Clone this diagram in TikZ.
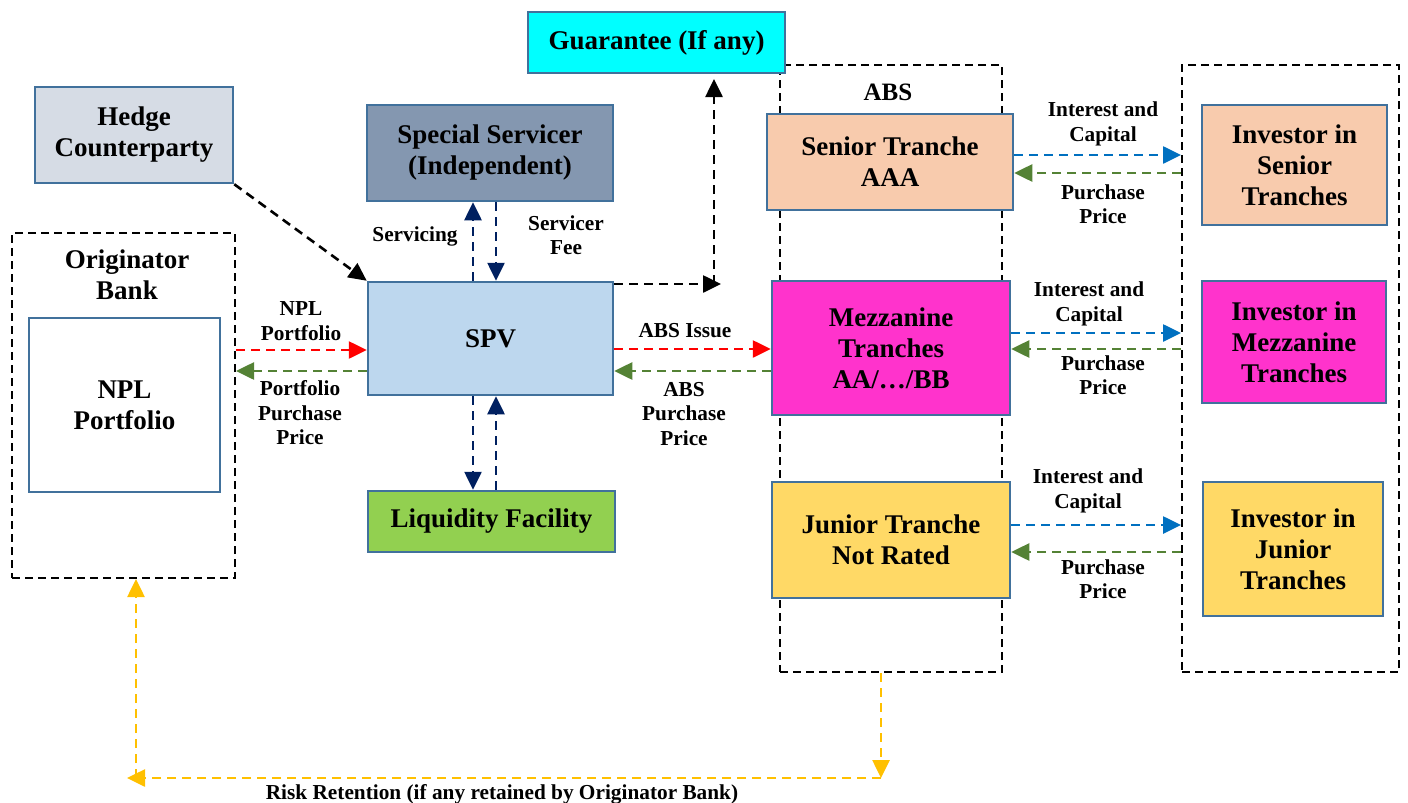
\documentclass[tikz,border=0pt]{standalone}
\usepackage{fontspec}
\setmainfont{Liberation Serif}
\usetikzlibrary{arrows.meta}
\definecolor{bord}{HTML}{41719C}
\definecolor{cyanf}{HTML}{00FFFF}
\definecolor{hedgef}{HTML}{D6DCE5}
\definecolor{ssf}{HTML}{8497B0}
\definecolor{spvf}{HTML}{BDD7EE}
\definecolor{liqf}{HTML}{92D050}
\definecolor{senf}{HTML}{F8CBAD}
\definecolor{mezf}{HTML}{FF33CC}
\definecolor{junf}{HTML}{FFD966}
\definecolor{redc}{HTML}{FF0000}
\definecolor{greenc}{HTML}{548235}
\definecolor{bluec}{HTML}{0070C0}
\definecolor{navyc}{HTML}{002060}
\definecolor{yellc}{HTML}{FFC000}
\begin{document}
\begin{tikzpicture}[x=1pt,y=-1pt,
  box/.style={draw=bord,line width=2.5pt,inner sep=0pt,align=center,
    font=\fontsize{27}{31}\selectfont\bfseries},
  dbox/.style={draw=black,line width=2pt,dash pattern=on 8pt off 5pt,inner sep=0pt},
  lab/.style={align=center,font=\fontsize{21.3}{24.5}\selectfont\bfseries,inner sep=0pt},
  arr/.style={line width=2.6pt,dash pattern=on 9pt off 6pt,-{Triangle[length=18pt,width=17pt]}},
  blackarr/.style={arr,black},
  navyarr/.style={arr,navyc},
  redarr/.style={arr,redc},
  greenarr/.style={arr,greenc},
  bluearr/.style={arr,bluec},
  yarr/.style={arr,yellc}]
\useasboundingbox (0,0) rectangle (1408,803);
% dashed group boxes
\node[dbox,minimum width=223pt,minimum height=345pt] (orig) at (123.5,405.5) {};
\node[dbox,minimum width=222pt,minimum height=607pt] (absbox) at (891,368.5) {};
\node[dbox,minimum width=217pt,minimum height=607pt] (invbox) at (1290.5,368.5) {};
% boxes
\node[box,fill=cyanf,minimum width=257pt,minimum height=61pt] (guar) at (656.5,42.5) {Guarantee (If any)};
\node[box,fill=hedgef,minimum width=198pt,minimum height=96pt] (hedge) at (134,135) {Hedge\\Counterparty};
\node[box,fill=ssf,minimum width=246pt,minimum height=96pt] (ss) at (490,153) {Special Servicer\\(Independent)};
\node[box,fill=white,minimum width=191pt,minimum height=174pt] (npl) at (124.5,405) {NPL\\Portfolio};
\node[box,fill=spvf,minimum width=245pt,minimum height=113pt] (spv) at (490.5,338.5) {SPV};
\node[box,fill=liqf,minimum width=247pt,minimum height=61pt] (liq) at (491.5,521.5) {Liquidity Facility};
\node[box,fill=senf,minimum width=246pt,minimum height=96pt] (sen) at (890,162) {Senior Tranche\\AAA};
\node[box,fill=mezf,minimum width=238pt,minimum height=134pt] (mez) at (891,348) {Mezzanine\\Tranches\\AA/\dots/BB};
\node[box,fill=junf,minimum width=238pt,minimum height=116pt] (jun) at (891,540) {Junior Tranche\\Not Rated};
\node[box,fill=senf,minimum width=185pt,minimum height=120pt] (isen) at (1294.5,165) {Investor in\\Senior\\Tranches};
\node[box,fill=mezf,minimum width=184pt,minimum height=122pt] (imez) at (1294,342) {Investor in\\Mezzanine\\Tranches};
\node[box,fill=junf,minimum width=180pt,minimum height=134pt] (ijun) at (1293,549) {Investor in\\Junior\\Tranches};
% group titles
\node[box,draw=none] (origt) at (127,275) {Originator\\Bank};
\node[lab,font=\fontsize{25}{29}\selectfont\bfseries] (abst) at (888,92) {ABS};
% arrows
\draw[blackarr] (hedge.south east) -- (spv.north west);
\coordinate (gc) at (714,284);
\coordinate (gr) at (721,284);
\coordinate (gt) at (714,79);
\draw[blackarr] (spv.north east |- gc) -- (gr);
\draw[blackarr] (gc) -- (gt);
\draw[navyarr] (spv.north -| 473,0) -- (ss.south -| 473,0);
\draw[navyarr] (ss.south -| 496,0) -- (spv.north -| 496,0);
\draw[navyarr] (spv.south -| 473,0) -- (liq.north -| 473,0);
\draw[navyarr] (liq.north -| 496,0) -- (spv.south -| 496,0);
\draw[redarr] (orig.east |- 0,350) -- (spv.west |- 0,350);
\draw[greenarr] (spv.west |- 0,371) -- (orig.east |- 0,371);
\draw[redarr] (spv.east |- 0,349) -- (mez.west |- 0,349);
\draw[greenarr] (mez.west |- 0,371) -- (spv.east |- 0,371);
\draw[bluearr] (sen.east |- 0,155) -- (invbox.west |- 0,155);
\draw[greenarr] (invbox.west |- 0,173) -- (sen.east |- 0,173);
\draw[bluearr] (mez.east |- 0,333) -- (invbox.west |- 0,333);
\draw[greenarr] (invbox.west |- 0,349) -- (mez.east |- 0,349);
\draw[bluearr] (jun.east |- 0,525) -- (invbox.west |- 0,525);
\draw[greenarr] (invbox.west |- 0,552) -- (jun.east |- 0,552);
\coordinate (yc) at (881,778);
\coordinate (yl) at (127,778);
\coordinate (yb) at (136,778);
\draw[yarr] (absbox.south -| yc) -- (yc);
\draw[yarr] (yc) -- (yl);
\draw[yarr] (yb) -- (orig.south -| yb);
% labels
\node[lab] (l1) at (415,236) {Servicing};
\node[lab] (l2) at (566,235) {Servicer\\Fee};
\node[lab] (l3) at (301,321) {NPL\\Portfolio};
\node[lab] (l4) at (300,413) {Portfolio\\Purchase\\Price};
\node[lab] (l5) at (685,331) {ABS Issue};
\node[lab] (l6) at (684,414) {ABS\\Purchase\\Price};
\node[lab] (l7) at (1103,124) {Interest and\\Capital};
\node[lab] (l8) at (1103,204) {Purchase\\Price};
\node[lab] (l9) at (1089,304) {Interest and\\Capital};
\node[lab] (l10) at (1103,375) {Purchase\\Price};
\node[lab] (l11) at (1088,491) {Interest and\\Capital};
\node[lab] (l12) at (1103,579) {Purchase\\Price};
\node[lab] (l13) at (502,794) {Risk Retention (if any retained by Originator Bank)};
\end{tikzpicture}
\end{document}
